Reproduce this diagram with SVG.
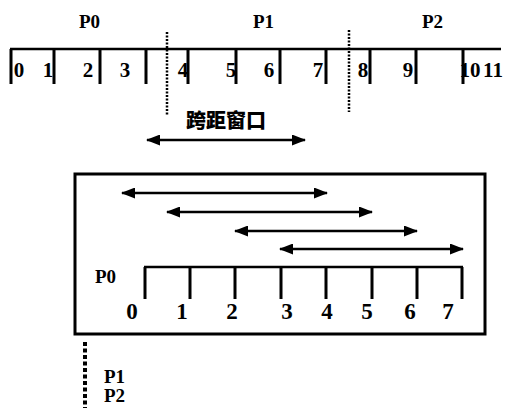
<svg xmlns="http://www.w3.org/2000/svg" width="507" height="409" viewBox="0 0 507 409">
<style>
.t{font-family:"Liberation Serif","DejaVu Serif",serif;font-weight:bold;fill:#000}
.d{font-size:21px}
.p{font-size:19px}
.ln{stroke:#000;stroke-width:2.5;fill:none}
.tk{stroke:#000;stroke-width:3;fill:none}
.ar{stroke:#000;stroke-width:2.5;fill:none;marker-start:url(#ah);marker-end:url(#ah)}
</style>
<defs>
<marker id="ah" viewBox="0 0 14 11" refX="13" refY="5.5" markerWidth="14" markerHeight="11" markerUnits="userSpaceOnUse" orient="auto-start-reverse">
<path d="M0,0 L14,5.5 L0,11 Z" fill="#000"/>
</marker>
</defs>
<rect width="507" height="409" fill="#fff"/>
<g id="top-ruler">
<line class="ln" x1="10" y1="49" x2="501" y2="49"/>
<path class="tk" d="M11,49V84M54,49V84M100,49V84M146,49V84M188,49V84M236,49V84M280,49V84M326,49V84M370,49V84M416,49V84M463,49V84"/>
<text class="t p" x="79" y="28">P0</text>
<text class="t p" x="253" y="28">P1</text>
<text class="t p" x="422" y="28">P2</text>
<g class="t d" text-anchor="middle">
<text x="19" y="77">0</text>
<text x="48" y="77">1</text>
<text x="88" y="77">2</text>
<text x="125" y="77">3</text>
<text x="183" y="77">4</text>
<text x="231" y="77">5</text>
<text x="269" y="77">6</text>
<text x="318" y="77">7</text>
<text x="363" y="77">8</text>
<text x="408" y="77">9</text>
<text x="470" y="77">10</text>
<text x="493" y="77">11</text>
</g>
</g>
<g id="dividers">
<line x1="167" y1="32" x2="167" y2="115" stroke="#000" stroke-width="2.5" stroke-dasharray="2,1.5"/>
<line x1="349" y1="30" x2="349" y2="112" stroke="#000" stroke-width="2.5" stroke-dasharray="2,1.5"/>
</g>
<g id="span-window">
<text x="226" y="128" font-size="20" text-anchor="middle" style="font-family:'Noto Sans CJK SC','Noto Sans CJK JP',sans-serif;font-weight:900;fill:#000">跨距窗口</text>
<line class="ar" x1="147" y1="140" x2="305" y2="140"/>
</g>
<g id="box">
<rect x="75" y="174" width="410" height="160" fill="none" stroke="#000" stroke-width="3"/>
</g>
<g id="connectors">
<line class="ar" x1="122" y1="193" x2="327" y2="193"/>
<line class="ar" x1="167" y1="212" x2="372" y2="212"/>
<line class="ar" x1="235" y1="231" x2="417" y2="231"/>
<line class="ar" x1="280" y1="249" x2="463" y2="249"/>
</g>
<g id="bottom-ruler">
<line class="ln" x1="144" y1="267" x2="463" y2="267"/>
<path class="tk" d="M145,267V299M190,267V299M235,267V299M281,267V299M326,267V299M372,267V299M417,267V299M462,267V299"/>
<text class="t p" x="95" y="283">P0</text>
<g class="t" font-size="23" text-anchor="middle">
<text x="132" y="319">0</text>
<text x="182" y="319">1</text>
<text x="232" y="319">2</text>
<text x="287" y="319">3</text>
<text x="327" y="319">4</text>
<text x="367" y="319">5</text>
<text x="410" y="319">6</text>
<text x="448" y="319">7</text>
</g>
</g>
<g id="legend">
<line x1="85" y1="342" x2="85" y2="408" stroke="#000" stroke-width="4" stroke-dasharray="4,2.5"/>
<text class="t p" x="104" y="383">P1</text>
<text class="t p" x="104" y="402">P2</text>
</g>
</svg>
